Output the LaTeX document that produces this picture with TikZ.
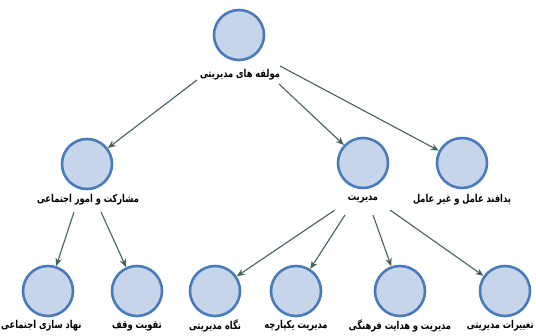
\documentclass[tikz,border=0pt]{standalone}
\usepackage{fontspec}
\usetikzlibrary{arrows.meta}
\TeXXeTstate=1
\newfontfamily\arabicfont[Script=Arabic]{DejaVu Sans}
\newcommand{\fatxt}[1]{\scalebox{1}[1.3]{\beginR #1\endR}}
\definecolor{cfill}{HTML}{C6D5EA}
\definecolor{cline}{HTML}{4A7CBB}
\definecolor{aline}{HTML}{44625A}
\begin{document}
\begin{tikzpicture}[x=1pt,y=-1pt,
  circ/.style={circle,draw=cline,fill=cfill,line width=2.6pt,minimum size=50pt,inner sep=0pt},
  lbl/.style={font=\arabicfont\bfseries\fontsize{8.3}{9}\selectfont,inner sep=1pt},
  arr/.style={draw=aline,line width=1.1pt,-{Stealth[length=8pt,width=6.5pt]}}]
\useasboundingbox (0,0) rectangle (536,336);
% nodes
\node[circ] (t) at (239,35) {};
\node[lbl] (tl) at (240,75) {\fatxt{مولفه های مدیریتی}};
\node[circ] (l) at (87,164) {};
\node[lbl] (ll) at (88,200) {\fatxt{مشارکت و امور اجتماعی}};
\node[circ] (m) at (363,163) {};
\node[lbl] (ml) at (363,200) {\fatxt{مدیریت}};
\node[circ] (r) at (462,163) {};
\node[lbl] (rl) at (462,200) {\fatxt{پدافند عامل و  غیر عامل}};
\node[circ] (b1) at (48,291) {};
\node[lbl,anchor=west] (b1l) at (0,326) {\fatxt{نهاد سازی اجتماعی}};
\node[circ] (b2) at (137,291) {};
\node[lbl] (b2l) at (137,326) {\fatxt{تقویت وقف}};
\node[circ] (b3) at (215,291) {};
\node[lbl] (b3l) at (215,326) {\fatxt{نگاه مدیریتی}};
\node[circ] (b4) at (296,291) {};
\node[lbl] (b4l) at (296,326) {\fatxt{مدیریت یکپارچه}};
\node[circ] (b5) at (400,291) {};
\node[lbl] (b5l) at (400,326) {\fatxt{مدیریت و هدایت فرهنگی}};
\node[circ] (b6) at (505,291) {};
\node[lbl,anchor=east] (b6l) at (535,326) {\fatxt{تغییرات مدیریتی}};
% connectors
\coordinate (ts1) at (197,80);
\coordinate (ts2) at (279,84);
\coordinate (ts3) at (280,66);
\draw[arr] (ts1) -- (l);
\draw[arr] (ts2) -- (m);
\draw[arr] (ts3) -- (r);
\coordinate (ls1) at (74,212);
\coordinate (ls2) at (101,212);
\draw[arr] (ls1) -- (b1);
\draw[arr] (ls2) -- (b2);
\coordinate (ms1) at (335,210);
\coordinate (ms2) at (345,215);
\coordinate (ms3) at (373,215);
\coordinate (ms4) at (390,210);
\draw[arr] (ms1) -- (b3);
\draw[arr] (ms2) -- (b4);
\draw[arr] (ms3) -- (b5);
\draw[arr] (ms4) -- (b6);
\end{tikzpicture}
\end{document}
